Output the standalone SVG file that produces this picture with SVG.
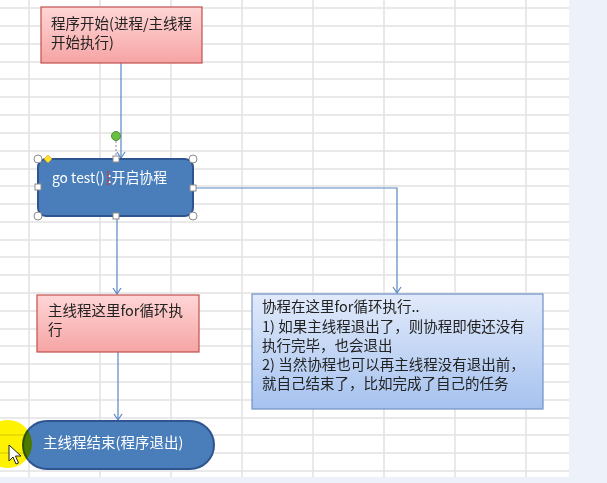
<svg xmlns="http://www.w3.org/2000/svg" width="607" height="483" viewBox="0 0 607 483">
<defs>
<linearGradient id="pink" x1="0" y1="0" x2="0" y2="1">
<stop offset="0" stop-color="#FFD6D6"/>
<stop offset="1" stop-color="#F6A4A4"/>
</linearGradient>
<linearGradient id="lblue" x1="0" y1="0" x2="0" y2="1">
<stop offset="0" stop-color="#E1EAFA"/>
<stop offset="1" stop-color="#A6C2EF"/>
</linearGradient>
<marker id="arr" markerWidth="10" markerHeight="10" refX="7" refY="5" orient="auto" markerUnits="userSpaceOnUse">
<path d="M1,1 L7,5 L1,9" fill="none" stroke="#5A86C4" stroke-width="1.2"/>
</marker>
</defs>
<style>
.grid line{stroke:#E2E2E2;stroke-width:1.5}
.t{font-family:"Noto Sans CJK SC","Liberation Sans",sans-serif;font-size:14.5px}
.dark{fill:#222}
.white{fill:#FFFFFF}
.pinkbox{fill:url(#pink);stroke:#C0504D;stroke-width:1.2}
.conn path{fill:none;stroke:#5A86C4;stroke-width:1.2}
.hc{fill:#FFFFFF;stroke:#8A8A8A;stroke-width:1}
</style>
<rect x="0" y="0" width="607" height="483" fill="#FFFFFF"/>
<g class="grid">
<line x1="29" y1="0" x2="29" y2="477"/><line x1="100" y1="0" x2="100" y2="477"/><line x1="171" y1="0" x2="171" y2="477"/><line x1="242" y1="0" x2="242" y2="477"/><line x1="313" y1="0" x2="313" y2="477"/><line x1="384" y1="0" x2="384" y2="477"/><line x1="455" y1="0" x2="455" y2="477"/><line x1="526" y1="0" x2="526" y2="477"/>
<line x1="0" y1="8" x2="569" y2="8"/><line x1="0" y1="26" x2="569" y2="26"/><line x1="0" y1="44" x2="569" y2="44"/><line x1="0" y1="62" x2="569" y2="62"/><line x1="0" y1="79" x2="569" y2="79"/><line x1="0" y1="97" x2="569" y2="97"/><line x1="0" y1="115" x2="569" y2="115"/><line x1="0" y1="133" x2="569" y2="133"/><line x1="0" y1="151" x2="569" y2="151"/><line x1="0" y1="169" x2="569" y2="169"/><line x1="0" y1="186" x2="569" y2="186"/><line x1="0" y1="204" x2="569" y2="204"/><line x1="0" y1="222" x2="569" y2="222"/><line x1="0" y1="240" x2="569" y2="240"/><line x1="0" y1="257" x2="569" y2="257"/><line x1="0" y1="275" x2="569" y2="275"/><line x1="0" y1="293" x2="569" y2="293"/><line x1="0" y1="311" x2="569" y2="311"/><line x1="0" y1="329" x2="569" y2="329"/><line x1="0" y1="346" x2="569" y2="346"/><line x1="0" y1="364" x2="569" y2="364"/><line x1="0" y1="382" x2="569" y2="382"/><line x1="0" y1="400" x2="569" y2="400"/><line x1="0" y1="418" x2="569" y2="418"/><line x1="0" y1="435" x2="569" y2="435"/><line x1="0" y1="453" x2="569" y2="453"/><line x1="0" y1="471" x2="569" y2="471"/>
</g>
<rect x="569" y="0" width="38" height="483" fill="#EDF1FA"/>
<rect x="0" y="477" width="607" height="6" fill="#EDF1FA"/>

<g class="conn">
<path d="M121,63 L121,158" marker-end="url(#arr)"/>
<path d="M117,217 L117,294" marker-end="url(#arr)"/>
<path d="M193,188 L397,188 L397,293" marker-end="url(#arr)"/>
<path d="M118,352 L118,420" marker-end="url(#arr)"/>
</g>

<g id="start">
<rect class="pinkbox" x="41" y="7" width="161" height="56"/>
<text class="t dark" x="51" y="29">程序开始(进程/主线程</text>
<text class="t dark" x="51" y="48">开始执行)</text>
</g>

<g id="gotest">
<rect x="38" y="159" width="155" height="57" rx="8" ry="8" fill="#4A7EBB" stroke="#2F5590" stroke-width="2"/>
<text class="t white" x="52" y="183" textLength="115" lengthAdjust="spacingAndGlyphs">go test() :开启协程</text>
<line x1="108" y1="171" x2="108" y2="186" stroke="#E03030" stroke-width="1.5" stroke-dasharray="2,1"/>
<line x1="116" y1="141" x2="116" y2="155" stroke="#8A8A8A" stroke-width="1" stroke-dasharray="2,2"/>
<circle cx="116" cy="136" r="4.5" fill="#6CBE45" stroke="#4A9030" stroke-width="1"/>
<circle class="hc" cx="38" cy="159" r="4"/>
<circle class="hc" cx="193" cy="159" r="4"/>
<circle class="hc" cx="38" cy="216" r="4"/>
<circle class="hc" cx="193" cy="216" r="4"/>
<rect class="hc" x="113" y="156" width="6" height="6"/>
<rect class="hc" x="113" y="213" width="6" height="6"/>
<rect class="hc" x="35" y="184" width="6" height="6"/>
<rect class="hc" x="190" y="185" width="6" height="6"/>
<path d="M48,155 L52,159 L48,163 L44,159 Z" fill="#FFE030" stroke="#C8A000" stroke-width="0.6"/>
</g>

<g id="mainloop">
<rect class="pinkbox" x="37" y="295" width="162" height="57"/>
<text class="t dark" x="48" y="316">主线程这里for循环执</text>
<text class="t dark" x="48" y="335">行</text>
</g>

<g id="coroutine">
<rect x="252" y="294" width="291" height="115" fill="url(#lblue)" stroke="#6F90C8" stroke-width="1.2"/>
<text class="t dark" x="262" y="312">协程在这里for循环执行..</text>
<text class="t dark" x="262" y="332">1) 如果主线程退出了，则协程即使还没有</text>
<text class="t dark" x="262" y="351">执行完毕，也会退出</text>
<text class="t dark" x="262" y="370">2) 当然协程也可以再主线程没有退出前，</text>
<text class="t dark" x="262" y="389">就自己结束了，比如完成了自己的任务</text>
</g>

<g id="end">
<rect x="23" y="421" width="191" height="48" rx="24" ry="24" fill="#4A7EBB" stroke="#2F5590" stroke-width="2"/>
<text class="t white" x="43" y="448">主线程结束(程序退出)</text>
</g>

<circle cx="8" cy="444" r="24" fill="#FFF200" style="mix-blend-mode:multiply"/>
<path d="M9,445 L9,461 L13,457 L16,464 L18.5,463 L15.5,456 L21,456 Z" fill="#FFFFFF" stroke="#222" stroke-width="1"/>
</svg>
